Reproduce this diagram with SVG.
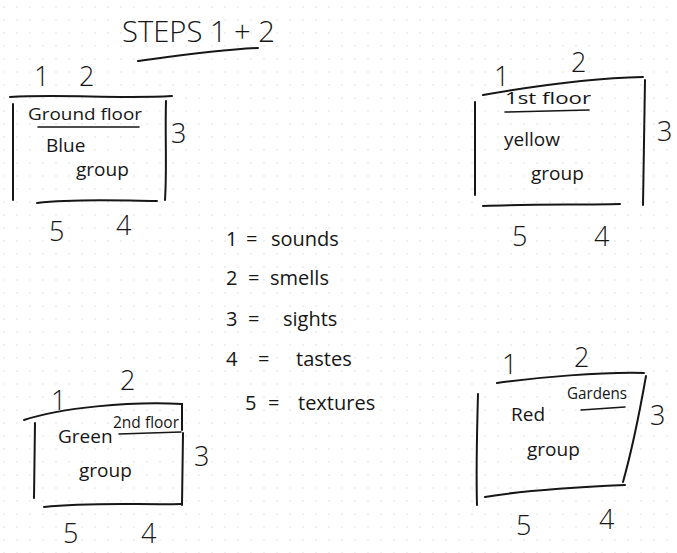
<svg xmlns="http://www.w3.org/2000/svg" width="677" height="553" viewBox="0 0 677 553">
  <defs>
    <pattern id="dots" x="3" y="6" width="13" height="13" patternUnits="userSpaceOnUse">
      <circle cx="1" cy="1" r="0.7" fill="#d6d6d6"/>
    </pattern>
    <style>
      .ink { fill: none; stroke: #161616; stroke-width: 2; stroke-linecap: round; stroke-linejoin: round; }
      .thin { stroke-width: 1.6; }
      text { fill: #161616; font-family: "Open Sans", "Liberation Sans", sans-serif; font-weight: 400; }
      .num { font-size: 27px; font-weight: 300; }
      .lbl { font-size: 17px; }
      .big { font-size: 19px; }
      .leg { font-size: 20px; }
      .title { font-size: 30px; font-weight: 300; }
    </style>
  </defs>

  <!-- dotted notebook paper -->
  <rect width="677" height="553" fill="#ffffff"/>
  <rect width="677" height="553" fill="url(#dots)"/>

  <!-- heading -->
  <g id="title">
    <text class="title" x="122" y="42" textLength="153" lengthAdjust="spacingAndGlyphs">STEPS 1 + 2</text>
    <path class="ink" d="M138 61 C175 56 215 50 258 48"/>
  </g>

  <!-- Ground floor / Blue group -->
  <g id="blue-group">
    <path class="ink" d="M10 97 C60 94 120 99 172 96"/>
    <path class="ink" d="M13 104 L13 200"/>
    <path class="ink" d="M166 101 C165 135 167 170 165 200"/>
    <path class="ink" d="M37 203 C80 198 125 201 157 201"/>
    <text class="num" x="34" y="86">1</text>
    <text class="num" x="79" y="86">2</text>
    <text class="num" x="171" y="143">3</text>
    <text class="num" x="49" y="241">5</text>
    <text class="num" x="116" y="235">4</text>
    <text class="lbl" x="28" y="120" textLength="114" lengthAdjust="spacingAndGlyphs">Ground floor</text>
    <path class="ink thin" d="M38 127 L139 127"/>
    <text class="big" x="46" y="152">Blue</text>
    <text class="big" x="76" y="176">group</text>
  </g>

  <!-- 1st floor / yellow group -->
  <g id="yellow-group">
    <path class="ink" d="M483 95 C540 85 595 78 643 77"/>
    <path class="ink" d="M475 102 L475 195"/>
    <path class="ink" d="M645 80 C644 120 644 165 643 205"/>
    <path class="ink" d="M483 206 C530 204 580 205 620 204"/>
    <text class="num" x="494" y="86">1</text>
    <text class="num" x="571" y="72">2</text>
    <text class="num" x="657" y="141">3</text>
    <text class="num" x="512" y="246">5</text>
    <text class="num" x="594" y="246">4</text>
    <text class="lbl" x="505" y="104" textLength="86" lengthAdjust="spacingAndGlyphs">1st floor</text>
    <path class="ink thin" d="M505 112 L589 110"/>
    <text class="big" x="504" y="146">yellow</text>
    <text class="big" x="531" y="180">group</text>
  </g>

  <!-- 2nd floor / Green group -->
  <g id="green-group">
    <path class="ink" d="M24 420 C60 408 130 401 182 404"/>
    <path class="ink" d="M182 404 L182 430"/>
    <path class="ink" d="M35 423 L34 498"/>
    <path class="ink" d="M183 433 L182 505"/>
    <path class="ink" d="M44 507 C90 502 140 505 182 504"/>
    <text class="num" x="51" y="410">1</text>
    <text class="num" x="120" y="390">2</text>
    <text class="num" x="194" y="466">3</text>
    <text class="num" x="63" y="543">5</text>
    <text class="num" x="141" y="543">4</text>
    <text class="big" x="58" y="443">Green</text>
    <text class="lbl" x="113" y="428" textLength="66" lengthAdjust="spacingAndGlyphs">2nd floor</text>
    <path class="ink thin" d="M119 434 L181 432"/>
    <text class="big" x="79" y="477">group</text>
  </g>

  <!-- Gardens / Red group -->
  <g id="red-group">
    <path class="ink" d="M497 383 C540 377 600 372 644 373"/>
    <path class="ink" d="M478 394 C477 430 476 470 477 505"/>
    <path class="ink" d="M646 376 C640 410 632 450 623 482"/>
    <path class="ink" d="M485 497 C525 490 580 487 625 485"/>
    <text class="num" x="502" y="374">1</text>
    <text class="num" x="574" y="367">2</text>
    <text class="num" x="650" y="425">3</text>
    <text class="num" x="516" y="535">5</text>
    <text class="num" x="599" y="529">4</text>
    <text class="lbl" x="567" y="399" textLength="60" lengthAdjust="spacingAndGlyphs">Gardens</text>
    <path class="ink thin" d="M581 410 L625 407"/>
    <text class="big" x="511" y="421">Red</text>
    <text class="big" x="527" y="456">group</text>
  </g>

  <!-- key -->
  <g id="legend">
    <text class="leg" y="246"><tspan x="226">1</tspan><tspan x="246">=</tspan><tspan x="271">sounds</tspan></text>
    <text class="leg" y="285"><tspan x="226">2</tspan><tspan x="248">=</tspan><tspan x="270">smells</tspan></text>
    <text class="leg" y="326"><tspan x="226">3</tspan><tspan x="248">=</tspan><tspan x="283">sights</tspan></text>
    <text class="leg" y="366"><tspan x="226">4</tspan><tspan x="258">=</tspan><tspan x="296">tastes</tspan></text>
    <text class="leg" y="410"><tspan x="245">5</tspan><tspan x="268">=</tspan><tspan x="298">textures</tspan></text>
  </g>
</svg>
